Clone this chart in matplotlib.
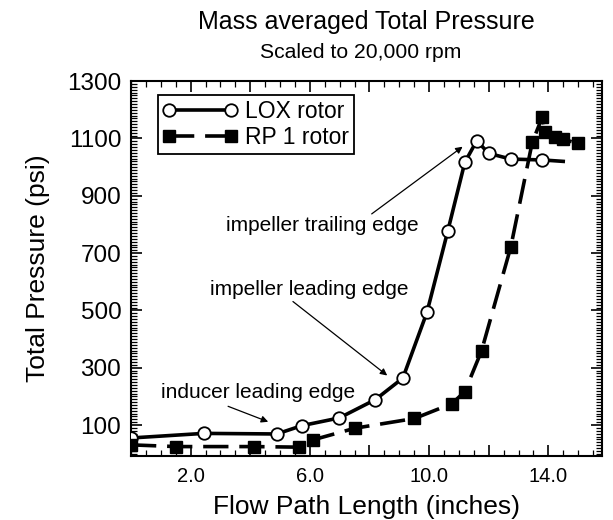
import numpy as np
import matplotlib.pyplot as plt
from matplotlib.ticker import MultipleLocator

plt.rcParams['font.family'] = ['Liberation Sans', 'DejaVu Sans']

# LOX rotor (open circles, solid line)
lox_x = [0.0, 2.44, 4.89, 5.73, 6.99, 8.2, 9.12, 9.93, 10.63, 11.2, 11.6, 12.0, 12.74, 13.8]
lox_y = [55, 71, 69, 98, 125, 189, 264, 494, 778, 1017, 1092, 1048, 1028, 1025]
# tail of the LOX line past the last marker
lox_tail_x = [13.8, 14.5]
lox_tail_y = [1025, 1020]

# RP 1 rotor (filled squares, dashed line)
rp_x = [0.0, 1.51, 4.12, 5.62, 6.09, 7.51, 9.51, 10.77, 11.2, 11.76, 12.74, 13.46, 13.8, 13.89, 14.22, 14.5, 14.98]
rp_y = [31, 25, 25, 23, 48, 89, 123, 175, 217, 359, 721, 1086, 1175, 1123, 1106, 1097, 1083]

y_ticks = [100, 300, 500, 700, 900, 1100, 1300]
x_ticks = [2.0, 4.0, 6.0, 8.0, 10.0, 12.0, 14.0]
x_ticklabels = ['2.0', '', '6.0', '', '10.0', '', '14.0']

fig = plt.figure(figsize=(6.13, 5.20), dpi=100)
ax = fig.add_axes([0.2137, 0.123, 0.7683, 0.721])

ax.plot(lox_x, lox_y, color='black', lw=2.6, marker='o', ms=9,
        mfc='white', mec='black', mew=1.3, label='LOX rotor', zorder=3)
ax.plot(lox_tail_x, lox_tail_y, color='black', lw=2.6, zorder=2)
rp_line, = ax.plot(rp_x, rp_y, color='black', lw=2.6, marker='s', ms=8,
                   mfc='black', mec='black', label='RP 1 rotor', zorder=3)
rp_line.set_dashes((7, 3))

ax.set_xlim(0, 15.8)
ax.set_ylim(-8, 1290)
ax.set_yticks(y_ticks)
ax.set_xticks(x_ticks)
ax.set_xticklabels(x_ticklabels)
ax.xaxis.set_minor_locator(MultipleLocator(0.5))
ax.yaxis.set_minor_locator(MultipleLocator(10))
ax.tick_params(which='both', direction='in', top=True, right=True)
ax.tick_params(which='major', length=8, width=1.2)
ax.tick_params(which='minor', length=4, width=0.9)
ax.tick_params(axis='x', labelsize=14.5, pad=8)
ax.tick_params(axis='y', labelsize=17.5, pad=7)
for s in ax.spines.values():
    s.set_linewidth(1.5)

ax.set_xlabel('Flow Path Length (inches)', fontsize=19)
ax.xaxis.set_label_coords(0.5, -0.136)
ax.xaxis.label.set_va('center')
ax.set_ylabel('Total Pressure (psi)', fontsize=19)
ax.yaxis.set_label_coords(-0.197, 0.5)
ax.yaxis.label.set_va('center')

fig.text(0.598, 0.958, 'Mass averaged Total Pressure', fontsize=18,
         ha='center', va='center')
fig.text(0.588, 0.9, 'Scaled to 20,000 rpm', fontsize=15.2,
         ha='center', va='center')

leg = ax.legend(loc='upper left', bbox_to_anchor=(0.057, 0.963), fontsize=16.5,
                handlelength=3.3, numpoints=2, fancybox=False, edgecolor='black',
                framealpha=1, borderpad=0.2, labelspacing=0.15,
                handletextpad=0.3, borderaxespad=0)
leg.get_frame().set_linewidth(1.3)

arrow = dict(arrowstyle='-|>', color='black', lw=0.9, mutation_scale=10)
ax.text(6.42, 797, 'impeller trailing edge', fontsize=15, ha='center', va='center')
ax.annotate('', xy=(11.2, 1077), xytext=(8.0, 831), arrowprops=arrow)
ax.text(5.98, 572, 'impeller leading edge', fontsize=15, ha='center', va='center')
ax.annotate('', xy=(8.67, 267), xytext=(5.36, 537), arrowprops=arrow)
ax.text(4.27, 215, 'inducer leading edge', fontsize=15, ha='center', va='center')
ax.annotate('', xy=(4.69, 108), xytext=(3.17, 169), arrowprops=arrow)

fig.savefig('out.png', dpi=100)
